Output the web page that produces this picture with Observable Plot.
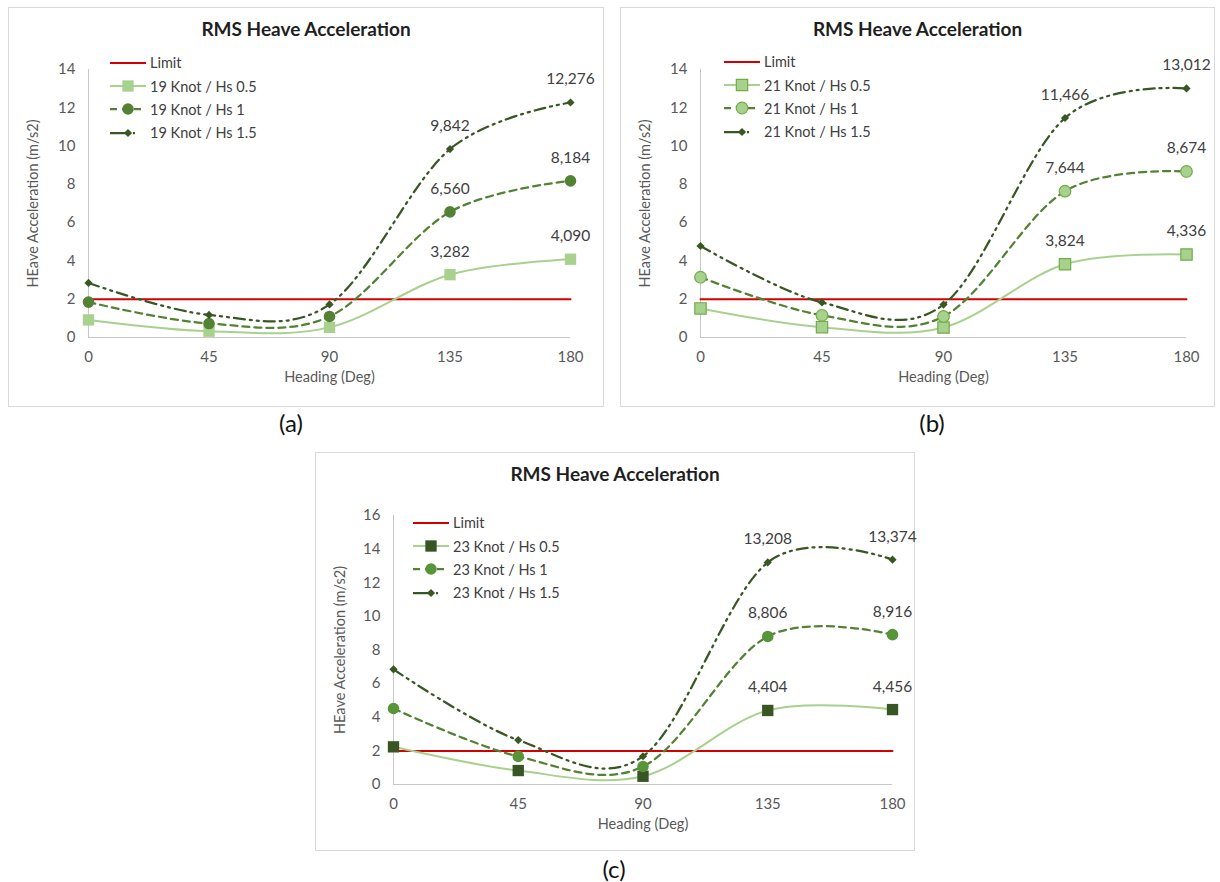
<!DOCTYPE html>
<html><head><meta charset="utf-8">
<script src="https://cdn.jsdelivr.net/npm/d3@7"></script>
<script src="https://cdn.jsdelivr.net/npm/@observablehq/plot@0.6"></script>
<style>
body{margin:0;background:#fff;font-family:Lato,"Open Sans",sans-serif;}
#root{position:relative;width:1220px;height:882px;background:#fff;}
.panel{position:absolute;outline:1px solid #d9d9d9;outline-offset:-1px;background:#fff;}
.panel svg.plotsvg{position:absolute;left:0;top:0;overflow:visible;}
.title{position:absolute;left:0;right:0;top:11px;text-align:center;font-weight:bold;font-size:19px;line-height:22px;color:#1f1f1f;}
.legend{position:absolute;font-size:14.5px;color:#404040;}
.legend .row{display:flex;align-items:center;height:23.4px;white-space:nowrap;}
.legend .row svg{margin-right:4px;}
.cap{position:absolute;font-size:24px;line-height:26px;color:#111;transform:translateX(-50%);}
</style></head><body><div id="root"></div><script>
// ---- data ----
const headings = [0, 45, 90, 135, 180];
const limitValue = 2;
const limitName = "Limit";
const yTitle = "HEave Acceleration (m/s2)";
const xTitle = "Heading (Deg)";
const chartTitle = "RMS Heave Acceleration";

const namesA = ["19 Knot / Hs 0.5", "19 Knot / Hs 1", "19 Knot / Hs 1.5"];
const a_hs05 = [0.92, 0.33, 0.53, 3.282, 4.090];
const a_hs1  = [1.85, 0.73, 1.10, 6.560, 8.184];
const a_hs15 = [2.85, 1.18, 1.73, 9.842, 12.276];

const namesB = ["21 Knot / Hs 0.5", "21 Knot / Hs 1", "21 Knot / Hs 1.5"];
const b_hs05 = [1.52, 0.54, 0.52, 3.824, 4.336];
const b_hs1  = [3.15, 1.16, 1.10, 7.644, 8.674];
const b_hs15 = [4.78, 1.83, 1.72, 11.466, 13.012];

const namesC = ["23 Knot / Hs 0.5", "23 Knot / Hs 1", "23 Knot / Hs 1.5"];
const c_hs05 = [2.24, 0.83, 0.49, 4.404, 4.456];
const c_hs1  = [4.52, 1.67, 1.07, 8.806, 8.916];
const c_hs15 = [6.85, 2.64, 1.68, 13.208, 13.374];

const yTicksAB = [0, 2, 4, 6, 8, 10, 12, 14];
const yTicksC = [0, 2, 4, 6, 8, 10, 12, 14, 16];
const captions = ["(a)", "(b)", "(c)"];

// ---- styling ----
const fmt = d3.formatLocale({decimal: ",", thousands: "."}).format(".3f");
const LIGHT = "#A9D18E", MID = "#548235", DARK = "#385723", RED = "#D40000";
const DASH1 = "7,5", DASH2 = "11,5,2,5,2,5";
const lineStyles = [
  {stroke: LIGHT, strokeWidth: 2, dash: null},
  {stroke: MID, strokeWidth: 2.25, dash: DASH1},
  {stroke: DARK, strokeWidth: 2.25, dash: DASH2}
];
const legendDash = [null, "7,5", "17,6,2,20"];

const panels = [
  {left: 8, top: 7, w: 596, h: 400, mL: 80, mR: 34, mT: 62, mB: 70, yMax: 14, yTicks: yTicksAB, yDx: -55,
   names: namesA, values: [a_hs05, a_hs1, a_hs15], legendLeft: 102, legendTop: 44, cap: [291, 410],
   markers: [
     {symbol: "square", r: 6.4, fill: LIGHT, stroke: "none"},
     {symbol: "circle", r: 5.8, fill: MID, stroke: "none"},
     {symbol: "diamond2", r: 3.7, fill: DARK, stroke: "none"}]},
  {left: 620, top: 7, w: 595, h: 400, mL: 80, mR: 29, mT: 62, mB: 70, yMax: 14, yTicks: yTicksAB, yDx: -55,
   names: namesB, values: [b_hs05, b_hs1, b_hs15], legendLeft: 104, legendTop: 43, cap: [932, 410],
   markers: [
     {symbol: "square", r: 6.4, fill: LIGHT, stroke: "#70AD47"},
     {symbol: "circle", r: 5.8, fill: LIGHT, stroke: "#70AD47"},
     {symbol: "diamond2", r: 3.7, fill: DARK, stroke: "none"}]},
  {left: 315, top: 452, w: 600, h: 399, mL: 78, mR: 23, mT: 63, mB: 67, yMax: 16, yTicks: yTicksC, yDx: -53,
   names: namesC, values: [c_hs05, c_hs1, c_hs15], legendLeft: 98, legendTop: 59, cap: [614, 856],
   markers: [
     {symbol: "square", r: 6.4, fill: "#375623", stroke: "none"},
     {symbol: "circle", r: 5.8, fill: "#589438", stroke: "none"},
     {symbol: "diamond2", r: 3.7, fill: DARK, stroke: "none"}]}
];

const root = document.getElementById("root");

function swatch(style, marker, dash) {
  const ns = "http://www.w3.org/2000/svg";
  const svg = document.createElementNS(ns, "svg");
  svg.setAttribute("width", 36); svg.setAttribute("height", 14);
  const ln = document.createElementNS(ns, "line");
  ln.setAttribute("x1", 0); ln.setAttribute("x2", 36); ln.setAttribute("y1", 7); ln.setAttribute("y2", 7);
  ln.setAttribute("stroke", style.stroke); ln.setAttribute("stroke-width", style.strokeWidth);
  if (dash) ln.setAttribute("stroke-dasharray", dash);
  svg.appendChild(ln);
  if (marker) {
    const sym = {square: d3.symbolSquare, circle: d3.symbolCircle, diamond2: d3.symbolDiamond2}[marker.symbol];
    const p = document.createElementNS(ns, "path");
    p.setAttribute("d", d3.symbol(sym, Math.PI * marker.r * marker.r)());
    p.setAttribute("transform", "translate(18,7)");
    p.setAttribute("fill", marker.fill);
    if (marker.stroke !== "none") { p.setAttribute("stroke", marker.stroke); p.setAttribute("stroke-width", 1.2); }
    svg.appendChild(p);
  }
  return svg;
}

panels.forEach((cfg, pi) => {
  const div = document.createElement("div");
  div.className = "panel";
  Object.assign(div.style, {left: cfg.left + "px", top: cfg.top + "px", width: cfg.w + "px", height: cfg.h + "px"});
  root.appendChild(div);

  const series = cfg.names.map((name, i) => headings.map((h, j) => ({h, v: cfg.values[i][j], key: name})));
  const limitRows = headings.map(h => ({h, v: limitValue, key: limitName}));

  const marks = [
    Plot.ruleY([0], {stroke: "#c8c8c8", strokeWidth: 1}),
    Plot.ruleX([0], {stroke: "#c8c8c8", strokeWidth: 1}),
    Plot.line(limitRows, {x: "h", y: "v", stroke: RED, strokeWidth: 2})
  ];
  series.forEach((rows, i) => {
    const st = lineStyles[i];
    marks.push(Plot.line(rows, {x: "h", y: "v", curve: "cardinal", stroke: st.stroke, strokeWidth: st.strokeWidth,
      strokeDasharray: st.dash || undefined}));
  });
  series.forEach((rows, i) => {
    const mk = cfg.markers[i];
    marks.push(Plot.dot(rows, {x: "h", y: "v", symbol: () => mk.symbol, r: mk.r, fill: mk.fill,
      stroke: mk.stroke === "none" ? null : mk.stroke, strokeWidth: 1.2}));
    marks.push(Plot.text(rows.filter(d => d.h >= 135), {x: "h", y: "v", text: d => fmt(d.v), dy: -23,
      fill: "#404040", fontSize: 15.5}));
  });
  marks.push(
    Plot.axisX({ticks: headings, tickSize: 0, tickPadding: 14, label: null, fontSize: 15, fill: "#595959"}),
    Plot.axisY({ticks: cfg.yTicks, tickSize: 0, tickPadding: 13, label: null, fontSize: 15, fill: "#595959"}),
    Plot.text([yTitle], {text: d => d, frameAnchor: "left", textAnchor: "middle", dx: cfg.yDx, rotate: -90, fontSize: 14.5, fill: "#595959"}),
    Plot.text([xTitle], {text: d => d, frameAnchor: "bottom", textAnchor: "middle", dy: 44, fontSize: 14.5, fill: "#595959"})
  );

  const chart = Plot.plot({
    width: cfg.w, height: cfg.h,
    marginLeft: cfg.mL, marginRight: cfg.mR, marginTop: cfg.mT, marginBottom: cfg.mB,
    x: {domain: [0, 180]},
    y: {domain: [0, cfg.yMax]},
    style: {fontFamily: "Lato, 'Open Sans', sans-serif", fontSize: "15px", background: "transparent", overflow: "visible"},
    marks
  });
  chart.classList.add("plotsvg");
  div.appendChild(chart);

  const title = document.createElement("div");
  title.className = "title"; title.textContent = chartTitle;
  div.appendChild(title);

  const leg = document.createElement("div");
  leg.className = "legend";
  leg.style.left = cfg.legendLeft + "px"; leg.style.top = cfg.legendTop + "px";
  const items = [{name: limitName, style: {stroke: RED, strokeWidth: 2}, marker: null, dash: null}]
    .concat(cfg.names.map((n, i) => ({name: n, style: lineStyles[i], marker: cfg.markers[i], dash: legendDash[i]})));
  items.forEach(it => {
    const row = document.createElement("div"); row.className = "row";
    row.appendChild(swatch(it.style, it.marker, it.dash));
    const sp = document.createElement("span"); sp.textContent = it.name; row.appendChild(sp);
    leg.appendChild(row);
  });
  div.appendChild(leg);

  const cap = document.createElement("div");
  cap.className = "cap"; cap.textContent = captions[pi];
  cap.style.left = cfg.cap[0] + "px"; cap.style.top = cfg.cap[1] + "px";
  root.appendChild(cap);
});
</script></body></html>
